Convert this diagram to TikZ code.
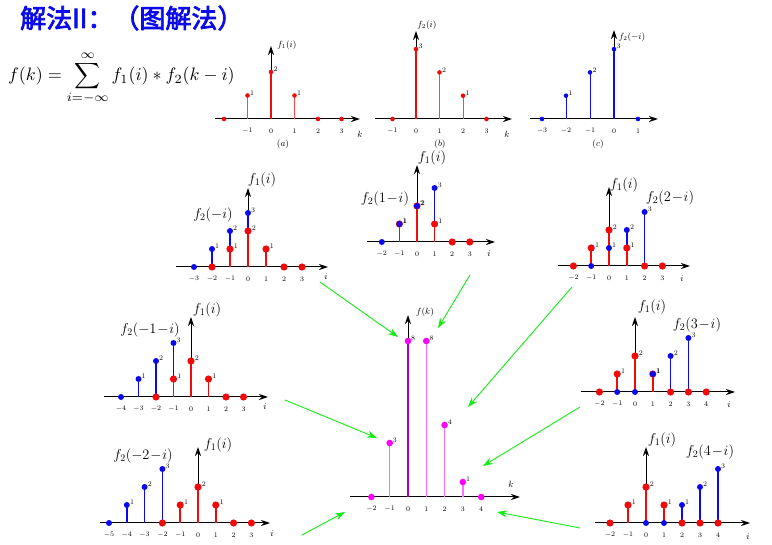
\documentclass[tikz,border=0pt]{standalone}
\usepackage{fontspec}
\usepackage{graphicx}
\newfontfamily\cjk[AutoFakeBold=3]{Noto Sans CJK SC}
\usetikzlibrary{arrows.meta}
\definecolor{rd}{RGB}{240,10,10}
\definecolor{lrd}{RGB}{250,70,70}
\definecolor{bl}{RGB}{10,10,235}
\definecolor{mg}{RGB}{250,0,250}
\definecolor{lmg}{RGB}{255,110,255}
\definecolor{gr}{RGB}{20,235,20}
\tikzset{
 axisline/.style={line width=1pt,-{Stealth[length=9pt,width=6pt]}},
 ticklab/.style={font=\fontsize{7}{8}\selectfont,inner sep=0pt},
 vallab/.style={font=\fontsize{7}{8}\selectfont,inner sep=0pt,anchor=south west},
 fname/.style={font=\fontsize{9}{10}\selectfont,inner sep=0pt},
 bigname/.style={font=\fontsize{14}{16}\selectfont,inner sep=0pt},
 garrow/.style={gr,line width=0.9pt,-{Stealth[length=10pt,width=7pt]}}
}
% #1 ox #2 oy #3 xleft #4 xright #5 top
\newcommand\pax[5]{\draw[axisline] (#3,#2) -- (#4,#2); \draw[axisline] (#1,#2) -- (#1,#5);}
% #1 ox #2 oy #3 ux #4 uy #5 colour #6 width #7 list i/v
\newcommand\plines[7]{\foreach \i/\v in {#7}{\ifnum\v>0 \draw[#5,line width=#6] (#1+\i*#3,#2) -- (#1+\i*#3,#2-\v*#4);\fi}}
% #1 ox #2 oy #3 ux #4 uy #5 colour #6 radius #7 list
\newcommand\pdots[7]{\foreach \i/\v in {#7}{\fill[#5] (#1+\i*#3,#2-\v*#4) circle[radius=#6];
 \ifnum\v>0 \node[vallab] at (#1+\i*#3+#6,#2-\v*#4) {\v};\fi}}
% #1 ox #2 oy #3 ux #4 list
\newcommand\pticks[4]{\foreach \t in {#4}{\node[ticklab] at (#1+\t*#3,#2+12) {$\t$};}}
\begin{document}
\begin{tikzpicture}[x=1pt,y=-1pt]
\useasboundingbox (0,0) rectangle (772,545);
% title and formula
\node[anchor=west,text=bl,font=\cjk\bfseries\fontsize{26}{30}\selectfont,inner sep=0pt] (title) at (20,18) {解法II：（图解法）};
\node[anchor=west,inner sep=0pt] (formula) at (8,78) {\scalebox{1.8}{$\displaystyle f(k)=\sum_{i=-\infty}^{\infty} f_1(i)*f_2(k-i)$}};
% (a)
\pax{271}{119}{215}{360}{46}
\plines{271}{119}{23.5}{23.5}{lrd}{1pt}{-1/1,1/1}
\plines{271}{119}{23.5}{23.5}{rd}{2pt}{0/2}
\pdots{271}{119}{23.5}{23.5}{rd}{2.3}{-2/0,-1/1,0/2,1/1,2/0,3/0}
\pticks{271}{119}{23.5}{-1,0,1,2,3}
\node[fname] (la) at (287,45) {$f_1(i)$};
\node[fname] (ka) at (360,134) {$k$};
\node[fname] (ca) at (283,144) {$(a)$};
% (b)
\pax{416}{119}{375}{512}{31}
\plines{416}{119}{23.5}{23.3}{lrd}{1pt}{1/2,2/1}
\plines{416}{119}{23.5}{23.3}{rd}{2pt}{0/3}
\pdots{416}{119}{23.5}{23.3}{rd}{2.3}{-1/0,0/3,1/2,2/1,3/0}
\pticks{416}{119}{23.5}{-1,0,1,2,3}
\node[fname] (lb) at (427,25) {$f_2(i)$};
\node[fname] (kb) at (507,134) {$k$};
\node[fname] (cb) at (440,144) {$(b)$};
% (c)
\pax{614}{119}{530}{658}{30}
\plines{614}{119}{24}{23.3}{bl}{1pt}{-2/1,-1/2}
\plines{614}{119}{24}{23.3}{bl}{2pt}{0/3}
\pdots{614}{119}{24}{23.3}{bl}{2.3}{-3/0,-2/1,-1/2,0/3,1/0}
\pticks{614}{119}{24}{-3,-2,-1,0,1}
\node[fname] (lc) at (632,37) {$f_2(-i)$};
\node[fname] (cc) at (598,144) {$(c)$};
% P1 f2(-i)
\pax{248}{267}{176}{328}{188}
\plines{248}{267}{18}{18}{bl}{1.5pt}{-2/1,-1/2,0/3}
\plines{248}{267}{18}{18}{rd}{1.5pt}{-1/1,0/2,1/1}
\pdots{248}{267}{18}{18}{rd}{3.6}{-2/0,-1/1,0/2,1/1,2/0,3/0}
\pdots{248}{267}{18}{18}{bl}{3}{-3/0,-2/1,-1/2,0/3}
\pticks{248}{267}{18}{-3,-2,-1,0,1,2,3}
\node[bigname] (l1a) at (262,180) {$f_1(i)$};
\node[bigname] (l1b) at (213,215) {$f_2(-i)$};
\node[fname] (i1) at (326,277) {$i$};
% P2 f2(1-i)
\pax{417}{242}{367}{495}{165}
\plines{417}{242}{17.6}{18}{bl}{1.5pt}{-1/1,0/2,1/3}
\plines{417}{242}{17.6}{18}{rd}{1.5pt}{-1/1,0/2,1/1}
\pdots{417}{242}{17.6}{18}{rd}{3.6}{-1/1,0/2,1/1,2/0,3/0}
\pdots{417}{242}{17.6}{18}{bl}{3}{-2/0,-1/1,0/2,1/3}
\pticks{417}{242}{17.6}{-2,-1,0,1,2,3}
\node[bigname] (l2a) at (432,158) {$f_1(i)$};
\node[bigname] (l2b) at (385,199) {$f_2(1\!-\!i)$};
\node[fname] (i2) at (489,254) {$i$};
% P3 f2(2-i)
\pax{609}{266}{558}{690}{187}
\plines{609}{266}{17.8}{18}{bl}{1.5pt}{0/1,1/2,2/3}
\plines{609}{266}{17.8}{18}{rd}{1.5pt}{-1/1,0/2,1/1}
\pdots{609}{266}{17.8}{18}{rd}{3.6}{-2/0,-1/1,0/2,1/1,2/0,3/0}
\pdots{609}{266}{17.8}{18}{bl}{3}{-1/0,0/1,1/2,2/3}
\pticks{609}{266}{17.8}{-2,-1,0,1,2,3}
\node[bigname] (l3a) at (624,185) {$f_1(i)$};
\node[bigname] (l3b) at (670,198) {$f_2(2\!-\!i)$};
\node[fname] (i3) at (682,279) {$i$};
% P4 f2(3-i)
\pax{635}{392}{581}{735}{317}
\plines{635}{392}{17.8}{18}{bl}{1.5pt}{1/1,2/2,3/3}
\plines{635}{392}{17.8}{18}{rd}{1.5pt}{-1/1,0/2,1/1}
\pdots{635}{392}{17.8}{18}{rd}{3.6}{-2/0,-1/1,0/2,1/1,2/0,3/0,4/0}
\pdots{635}{392}{17.8}{18}{bl}{3}{-1/0,0/0,1/1,2/2,3/3}
\pticks{635}{392}{17.8}{-2,-1,0,1,2,3,4}
\node[bigname] (l4a) at (652,307) {$f_1(i)$};
\node[bigname] (l4b) at (697,325) {$f_2(3\!-\!i)$};
\node[fname] (i4) at (729,405) {$i$};
% P5 f2(4-i)
\pax{646}{523}{595}{750}{447}
\plines{646}{523}{18}{18}{bl}{1.5pt}{2/1,3/2,4/3}
\plines{646}{523}{18}{18}{rd}{1.5pt}{-1/1,0/2,1/1}
\pdots{646}{523}{18}{18}{rd}{3.6}{-2/0,-1/1,0/2,1/1,2/0,3/0,4/0}
\pdots{646}{523}{18}{18}{bl}{3}{0/0,1/0,2/1,3/2,4/3}
\pticks{646}{523}{18}{-2,-1,0,1,2,3,4}
\node[bigname] (l5a) at (662,440) {$f_1(i)$};
\node[bigname] (l5b) at (710,452) {$f_2(4\!-\!i)$};
\node[fname] (i5) at (748,537) {$i$};
% P6 f2(-1-i)
\pax{191}{397}{104}{268}{317}
\plines{191}{397}{17.5}{18}{bl}{1.5pt}{-3/1,-2/2,-1/3}
\plines{191}{397}{17.5}{18}{rd}{1.5pt}{-1/1,0/2,1/1}
\pdots{191}{397}{17.5}{18}{rd}{3.6}{-2/0,-1/1,0/2,1/1,2/0,3/0}
\pdots{191}{397}{17.5}{18}{bl}{3}{-4/0,-3/1,-2/2,-1/3}
\pticks{191}{397}{17.5}{-4,-3,-2,-1,0,1,2,3}
\node[bigname] (l6a) at (207,310) {$f_1(i)$};
\node[bigname] (l6b) at (150,330) {$f_2(-1\!-\!i)$};
\node[fname] (i6) at (265,407) {$i$};
% P7 f2(-2-i)
\pax{198}{523}{100}{270}{447}
\plines{198}{523}{17.8}{18}{bl}{1.5pt}{-4/1,-3/2,-2/3}
\plines{198}{523}{17.8}{18}{rd}{1.5pt}{-1/1,0/2,1/1}
\pdots{198}{523}{17.8}{18}{rd}{3.6}{-2/0,-1/1,0/2,1/1,2/0,3/0}
\pdots{198}{523}{17.8}{18}{bl}{3}{-5/0,-4/1,-3/2,-2/3}
\pticks{198}{523}{17.8}{-5,-4,-3,-2,-1,0,1,2,3}
\node[bigname] (l7a) at (218,445) {$f_1(i)$};
\node[bigname] (l7b) at (143,456) {$f_2(-2\!-\!i)$};
\node[fname] (i7) at (272,534) {$i$};
% result f(k)
\pax{408}{497}{350}{520}{315}
\foreach \i/\h/\v in {-1/54/3,1/156/8,2/72/4,3/15/1}{
 \draw[lmg,line width=1.5pt] (408+\i*18.3,497) -- (408+\i*18.3,497-\h);}
\draw[mg!70!black,line width=1.5pt] (408,497) -- (408,341);
\foreach \i/\h/\v in {-2/0/0,-1/54/3,0/156/8,1/156/8,2/72/4,3/15/1,4/0/0}{
 \fill[mg] (408+\i*18.3,497-\h) circle[radius=3.3];
 \ifnum\v>0 \node[vallab] at (411+\i*18.3,497-\h) {\v};\fi}
\pticks{408}{497}{18.3}{-2,-1,0,1,2,3,4}
\node[fname] (lr) at (425,312) {$f(k)$};
\node[fname] (kr) at (511,484) {$k$};
% green arrows
\coordinate (g1s) at (320,282); \coordinate (g1e) at (398,337);
\coordinate (g2s) at (470,275); \coordinate (g2e) at (438,328);
\coordinate (g3s) at (572,287); \coordinate (g3e) at (468,407);
\coordinate (g4s) at (580,407); \coordinate (g4e) at (483,466);
\coordinate (g5s) at (580,528); \coordinate (g5e) at (497,512);
\coordinate (g6s) at (285,400); \coordinate (g6e) at (377,438);
\coordinate (g7s) at (302,535); \coordinate (g7e) at (345,512);
\foreach \n in {1,...,7}{\draw[garrow] (g\n s) -- (g\n e);}
\end{tikzpicture}
\end{document}
